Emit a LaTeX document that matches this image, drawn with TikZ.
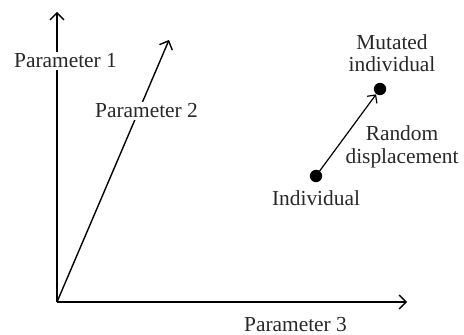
\documentclass[tikz,border=0pt]{standalone}
\usepackage{fontspec}
\setmainfont{Liberation Serif}
\usepackage{tikz}
\usetikzlibrary{arrows.meta,positioning}
\definecolor{txtgray}{RGB}{40,40,40}

\begin{document}
\begin{tikzpicture}[x=0.5pt, y=-0.5pt]
    \tikzstyle{axis}=[line width=0.7pt, -{Straight Barb[length=3.5pt, width=7pt]}]
    \tikzstyle{lbl}=[font=\fontsize{10.7}{11.2}\selectfont, text=txtgray, align=center, inner sep=1pt]
    \tikzstyle{dot}=[circle, fill=black, inner sep=0pt, minimum size=6.2pt]
    \useasboundingbox (0,0) rectangle (464,335);
    % axes
    \coordinate (o) at (57,302);
    \coordinate (p1) at (57,12);
    \coordinate (p2) at (169,40);
    \coordinate (p3) at (407,302);
    \draw[axis] (o) -- (p1);
    \draw[axis] (o) -- (p2);
    \draw[axis] (o) -- (p3);
    \node[lbl, fill=white] (l1) at (65.5,61) {Parameter 1};
    \node[lbl, fill=white] (l2) at (146.5,111) {Parameter 2};
    \node[lbl] (l3) at (295.5,325) {Parameter 3};
    % mutation
    \node[dot] (ind) at (316,176) {};
    \node[dot] (mut) at (380,89) {};
    \draw[line width=0.6pt, -{Straight Barb[length=3pt, width=6pt]}] (ind.center) -- (mut);
    \node[lbl, below=3pt of ind] (indl) {Individual};
    \node[lbl, above=4pt of mut, xshift=6pt] (mutl) {Mutated\\individual};
    \node[lbl] (rd) at (402,147) {Random\\displacement};
\end{tikzpicture}
\end{document}
